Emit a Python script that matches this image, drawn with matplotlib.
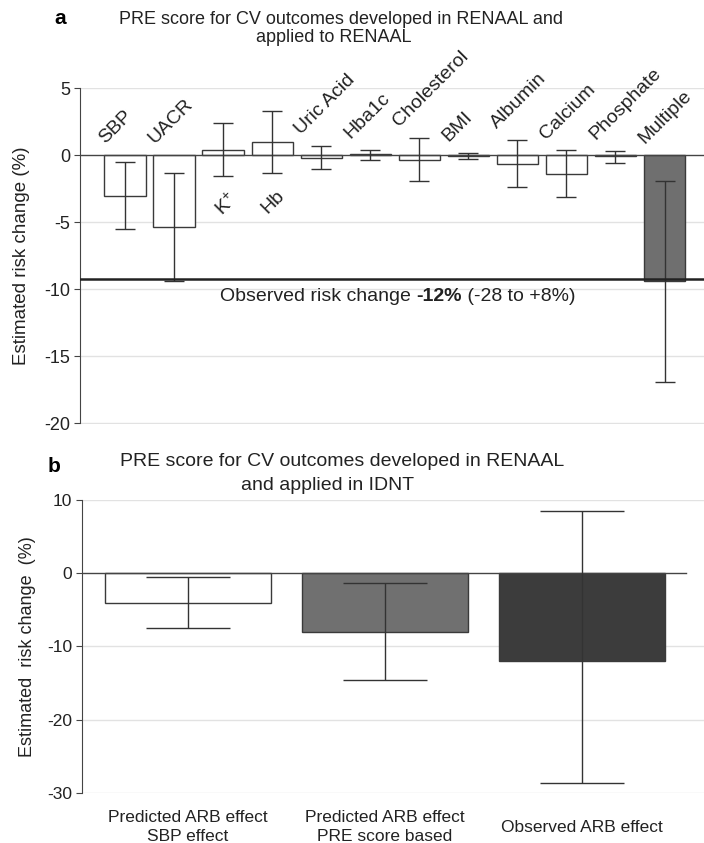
import matplotlib
matplotlib.use("Agg")
import matplotlib.pyplot as plt
import numpy as np

plt.rcParams['font.family'] = ['Liberation Sans', 'DejaVu Sans']
plt.rcParams['mathtext.fontset'] = 'custom'
plt.rcParams['mathtext.rm'] = 'Liberation Sans'
plt.rcParams['mathtext.it'] = 'Liberation Sans'
plt.rcParams['mathtext.bf'] = 'Liberation Sans:bold'

# ---- Panel a data ----
categories_a = ["SBP", "UACR", "K$^{+}$", "Hb", "Uric Acid", "Hba1c", "Cholesterol",
                "BMI", "Albumin", "Calcium", "Phosphate", "Multiple"]
values_a = [-3.0, -5.35, 0.4, 1.0, -0.22, 0.1, -0.35, -0.05, -0.65, -1.39, -0.05, -9.4]
lower_a = [-5.5, -9.35, -1.55, -1.35, -1.05, -0.35, -1.92, -0.27, -2.39, -3.08, -0.55, -16.9]
upper_a = [-0.5, -1.35, 2.4, 3.3, 0.72, 0.42, 1.27, 0.15, 1.12, 0.37, 0.35, -1.9]
observed_a = -9.2
yticks_a = [5, 0, -5, -10, -15, -20]

# ---- Panel b data ----
categories_b = ["Predicted ARB effect\nSBP effect", "Predicted ARB effect\nPRE score based",
                "Observed ARB effect"]
values_b = [-4.08, -8.03, -12.0]
lower_b = [-7.43, -14.66, -28.65]
upper_b = [-0.46, -1.28, 8.49]
yticks_b = [10, 0, -10, -20, -30]

W, H = 704, 843
fig = plt.figure(figsize=(W / 100, H / 100), dpi=100)

EDGE = "#3a3a3a"
GRID = "#e2e2e2"
TXT = "#222222"

def fx(px):
    return px / W

def fy(py):
    return 1 - py / H

# ================= Panel a =================
axa = fig.add_axes([fx(80), fy(423.5), 1 - fx(80), fy(88.3) - fy(423.5)])
xa = np.arange(len(categories_a))
colors_a = ["white"] * (len(categories_a) - 1) + ["#6f6f6f"]
axa.bar(xa, values_a, width=0.84, color=colors_a, edgecolor=EDGE, linewidth=1.0, zorder=3)
va = np.array(values_a)
yerr_a = np.array([va - np.array(lower_a), np.array(upper_a) - va])
axa.errorbar(xa, va, yerr=yerr_a, fmt='none', ecolor="#333333", elinewidth=1.0,
             capsize=7.5, capthick=1.0, zorder=4)
axa.set_xlim(-0.917, 11.805)
axa.set_ylim(-20, 5)
axa.set_yticks(yticks_a)
axa.set_yticklabels([str(t) for t in yticks_a], fontsize=13, color=TXT)
for t in yticks_a:
    if t != 0:
        axa.axhline(t, color=GRID, lw=1.0, zorder=1)
axa.axhline(0, color="#444444", lw=1.0, zorder=3.5)
axa.axhline(observed_a, color="#222222", lw=1.8, zorder=5)
axa.set_xticks([])
for s in ["top", "right", "bottom"]:
    axa.spines[s].set_visible(False)
axa.spines["left"].set_color("#444444")
axa.tick_params(axis='y', length=4, color="#444444", pad=3)
axa.set_ylabel("Estimated risk change (%)", fontsize=13.5, color=TXT, labelpad=10)

below = {"K$^{+}$": True, "Hb": True}
for i, name in enumerate(categories_a):
    if below.get(name):
        axa.text(i + 0.08, lower_a[i] - 1.0, name, rotation=45, rotation_mode='anchor',
                 ha='right', va='top', fontsize=14, color=TXT)
    else:
        base = max(0.0, upper_a[i]) + 0.6
        axa.text(i - 0.35, base, name, rotation=45, rotation_mode='anchor',
                 ha='left', va='bottom', fontsize=14, color=TXT)

# Observed annotation, composed of three pieces (middle one bold)
pieces = [("Observed risk change ", 'normal'), ("-12%", 'bold'), (" (-28 to +8%)", 'normal')]
txts = [fig.text(0, fy(296.7), s, ha='left', va='center', fontsize=14, fontweight=w, color=TXT)
        for s, w in pieces]
fig.canvas.draw()
r = fig.canvas.get_renderer()
widths = [t.get_window_extent(renderer=r).width for t in txts]
x0 = 398 - sum(widths) / 2
for t, w in zip(txts, widths):
    t.set_x(fx(x0))
    x0 += w

fig.text(fx(60), fy(18), "a", fontsize=15, fontweight='bold', ha='center', va='center')
fig.text(fx(341), fy(19), "PRE score for CV outcomes developed in RENAAL and",
         fontsize=13, ha='center', va='center', color=TXT)
fig.text(fx(334), fy(37), "applied to RENAAL",
         fontsize=13, ha='center', va='center', color=TXT)

# ================= Panel b =================
axb = fig.add_axes([fx(82), fy(792.7), 1 - fx(82), fy(500) - fy(792.7)])
xb = np.arange(len(categories_b))
colors_b = ["white", "#707070", "#3c3c3c"]
axb.bar(xb, values_b, width=0.84, color=colors_b, edgecolor=EDGE, linewidth=1.0, zorder=3)
vb = np.array(values_b)
yerr_b = np.array([vb - np.array(lower_b), np.array(upper_b) - vb])
axb.errorbar(xb, vb, yerr=yerr_b, fmt='none', ecolor="#333333", elinewidth=1.0,
             capsize=30, capthick=1.0, zorder=4)
axb.set_xlim(-0.538, 2.619)
axb.set_ylim(-30, 10)
axb.set_yticks(yticks_b)
axb.set_yticklabels([str(t) for t in yticks_b], fontsize=12.5, color=TXT)
for t in yticks_b:
    if t != 0:
        axb.axhline(t, color=GRID, lw=1.0, zorder=1)
axb.axhline(0, xmin=0, xmax=(2.528 + 0.538) / (2.619 + 0.538), color="#444444", lw=1.0, zorder=3.5)
axb.set_xticks([])
for i, lab in enumerate(categories_b):
    axb.text(i, -34.7, lab, ha='center', va='center', fontsize=12.5, color=TXT,
             linespacing=1.3)
for s in ["top", "right", "bottom"]:
    axb.spines[s].set_visible(False)
axb.spines["left"].set_color("#444444")
axb.tick_params(axis='y', length=4, color="#444444", pad=3)
axb.set_ylabel("Estimated  risk change  (%)", fontsize=13, color=TXT, labelpad=8)

fig.text(fx(54), fy(466.7), "b", fontsize=15, fontweight='bold', ha='center', va='center')
fig.text(fx(342), fy(462), "PRE score for CV outcomes developed in RENAAL",
         fontsize=14, ha='center', va='center', color=TXT)
fig.text(fx(328), fy(485), "and applied in IDNT",
         fontsize=14, ha='center', va='center', color=TXT)

fig.savefig("out.png", dpi=100)
